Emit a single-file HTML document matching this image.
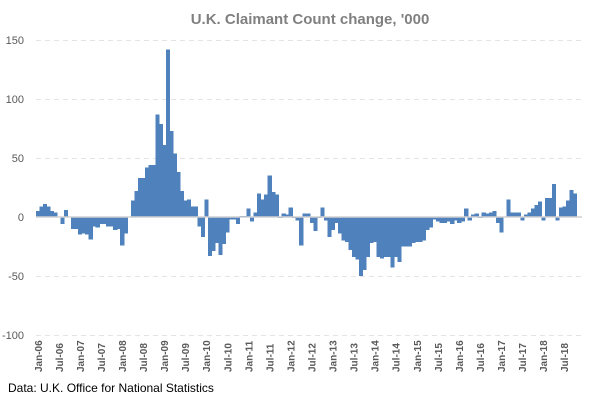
<!DOCTYPE html>
<html><head><meta charset="utf-8"><style>
body{margin:0;background:#fff;width:600px;height:400px;overflow:hidden;font-family:"Liberation Sans",sans-serif}
</style></head><body>
<svg id="s" width="600" height="400" xmlns="http://www.w3.org/2000/svg">
<text x="310" y="24" text-anchor="middle" font-size="15" font-weight="bold" fill="#808080">U.K. Claimant Count change, '000</text>
<g stroke="#e4e4e4" stroke-dasharray="5,4" stroke-width="1">
<line x1="36" x2="582" y1="40.5" y2="40.5"/><line x1="36" x2="582" y1="99.5" y2="99.5"/>
<line x1="36" x2="582" y1="158.5" y2="158.5"/><line x1="36" x2="582" y1="276.5" y2="276.5"/>
<line x1="36" x2="582" y1="335.5" y2="335.5"/></g>
<g font-size="11" fill="#595959" text-anchor="end">
<text x="24" y="44">150</text><text x="24" y="103">100</text><text x="24" y="162">50</text>
<text x="24" y="221">0</text><text x="24" y="280">-50</text><text x="24" y="339">-100</text></g>
<g id="bars" fill="#4f81bd" shape-rendering="crispEdges"></g>
<line x1="36" x2="582" y1="217" y2="217" stroke="#d0d0d0" stroke-width="1.5"/>
<g id="lab" font-size="10" fill="#595959" font-weight="bold"></g>
<text x="8" y="392" font-size="12" fill="#000">Data: U.K. Office for National Statistics</text>
</svg>
<script>
var v=[5,9,11,9,5,4,0,-6,6,0,-10,-10,-15,-14,-15,-19,-8,-9,-6,-6,-8,-8,-11,-10,-24,-14,0,14,22,33,33,42,44,44,87,79,61,142,73,54,38,22,14,15,9,9,-8,-17,15,-33,-29,-22,-32,-23,-13,-2,-2,-6,1,1,7,-4,4,20,15,19,35,21,19,-1,3,2,8,-1,-3,-24,3,3,-5,-12,-1,8,-3,-17,-11,-5,-14,-20,-21,-28,-34,-36,-50,-45,-34,-22,-21,-34,-35,-34,-34,-43,-34,-38,-25,-25,-25,-22,-21,-21,-20,-11,-9,-2,-4,-5,-5,-4,-6,-3,-5,-4,7,-3,2,3,-1,4,3,4,5,-5,-13,0,15,4,4,4,-3,2,4,7,10,13,-3,16,16,28,-3,8,9,14,23,20];
var ns="http://www.w3.org/2000/svg",b=document.getElementById('bars'),l=document.getElementById('lab');
var w=544/155;
v.forEach(function(d,i){var r=document.createElementNS(ns,'rect');var x=36+w*i,h=Math.abs(d)*1.18;
r.setAttribute('x',x.toFixed(2));r.setAttribute('width',(w+0.6).toFixed(2));
r.setAttribute('y',d>=0?217-h:217);r.setAttribute('height',h);b.appendChild(r);
if(i%6==0){var t=document.createElementNS(ns,'text');var yr=('0'+(6+Math.floor(i/12))).slice(-2);
var nm=(i%12==0?'Jan-':'Jul-')+yr;var cx=x+w/2+4;
t.setAttribute('transform','translate('+cx.toFixed(1)+',372) rotate(-90)');t.textContent=nm;l.appendChild(t);}});
</script>
</body></html>
